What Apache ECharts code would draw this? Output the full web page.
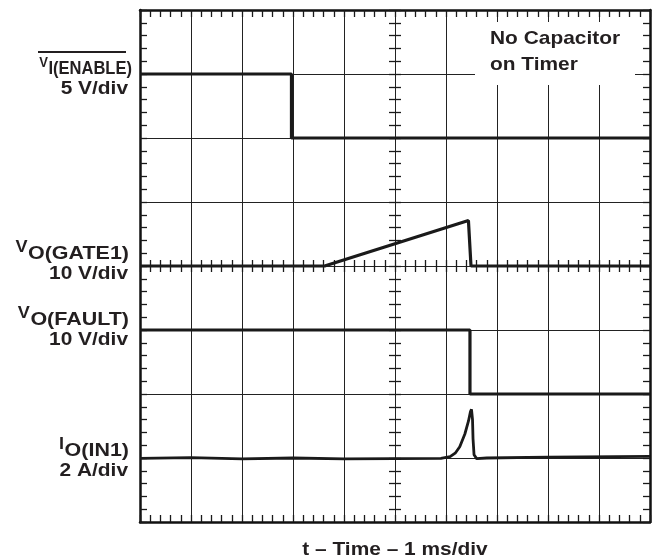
<!DOCTYPE html>
<html>
<head>
<meta charset="utf-8">
<script src="https://cdn.jsdelivr.net/npm/echarts@6/dist/echarts.min.js"></script>
<style>
  html, body { margin: 0; padding: 0; background: #fff; }
  #main { width: 652px; height: 559px; }
</style>
</head>
<body>
<div id="main"></div>
<script>
// time in ms (1 ms/div), values in the channel's own unit
var enableT = [0, 2.97, 2.97, 10];
var enableV = [5, 5, 0, 0];

var gate1T = [0, 3.62, 6.44, 6.49, 10];
var gate1V = [0, 0, 7.1, 0, 0];

var faultT = [0, 6.47, 6.47, 10];
var faultV = [10, 10, 0, 0];

var in1T = [0, 1, 2, 3, 4, 5, 5.9, 6.08, 6.18, 6.27, 6.37, 6.44, 6.48, 6.5, 6.52, 6.53, 6.55, 6.6, 6.8, 8, 10];
var in1A = [-0.01, 0.01, -0.03, 0, -0.03, -0.02, -0.01, 0.04, 0.15, 0.35, 0.75, 1.15, 1.45, 1.52, 1.2, 0.6, 0.1, -0.02, 0, 0.03, 0.05];

// scope settings per channel: units per division, division where zero sits
var chNames = ["ENABLE", "GATE1", "FAULT", "IN1"];
var unitsPerDiv = [5, 10, 10, 2];
var zeroDiv = [6, 4, 2, 1];

function toDiv(ts, vs, ch) {
  return ts.map(function (t, i) {
    return [t, zeroDiv[ch] + vs[i] / unitsPerDiv[ch]];
  });
}

var FONT = '"Liberation Sans", Arial, sans-serif';
var INK = "#231f20";
var GRIDC = "#222";

var chart = echarts.init(document.getElementById("main"));

// text width helper for placing the raised prefix letter
var mctx = document.createElement("canvas").getContext("2d");
function textW(str, font) { mctx.font = font; return mctx.measureText(str).width; }
// y for verticalAlign middle so the alphabetic baseline lands on `base`
function midY(base, fs) { return base - 0.35 * fs; }

function axisBase(extra) {
  var a = {
    type: "value",
    axisLabel: { show: false },
    axisLine: { show: false, onZero: false },
    axisTick: { show: true, inside: true, length: 7, lineStyle: { color: "#1a1a1a", width: 1.3 } },
    minorTick: { show: true, splitNumber: 5, length: 7, lineStyle: { color: "#1a1a1a", width: 1.3 } },
    splitLine: { show: false }
  };
  return Object.assign(a, extra);
}
function xAx(extra) { return axisBase(Object.assign({ min: 0, max: 10, interval: 1 }, extra)); }
function yAx(extra) { return axisBase(Object.assign({ min: 0, max: 8, interval: 1 }, extra)); }

var borderLine = { show: true, onZero: false, lineStyle: { color: "#111", width: 2.5 } };
var outTick = { show: true, inside: false, length: 6, lineStyle: { color: "#1a1a1a", width: 1.3 } };
var outMinor = { show: true, splitNumber: 5, length: 6, lineStyle: { color: "#1a1a1a", width: 1.3 } };
var gridLines = { show: true, lineStyle: { color: GRIDC, width: 1 } };

function trace(data, w) {
  return {
    type: "line",
    xAxisIndex: 0,
    yAxisIndex: 0,
    data: data,
    showSymbol: false,
    symbol: "none",
    lineStyle: { color: "#1a1a1a", width: w },
    z: 5
  };
}

function txt(str, x, base, fs, sx, align) {
  return {
    type: "text", x: x, y: midY(base, fs), scaleX: sx, z: 50,
    style: { text: str, font: "bold " + fs + "px " + FONT, fill: INK, align: align, verticalAlign: "middle" }
  };
}

// channel label: raised prefix letter + big subscript, scale line below
function chLabel(base, right, sym, symFs, sub, sx, scale) {
  var w = textW(sub, "bold 19px " + FONT) * sx;
  return [
    txt(sub, right, base, 19, sx, "right"),
    txt(sym, right - w - 0.5, base - 7, symFs, sx, "right"),
    txt(scale, 128, base + 20, 19, 1.1, "right")
  ];
}

var graphics = [
  { type: "rect", z: 40, shape: { x: 475, y: 22, width: 160, height: 63 }, style: { fill: "#fff" } },
  txt("No Capacitor", 490, 45, 19, 1.1, "left"),
  txt("on Timer", 490, 71, 19, 1.1, "left"),
  { type: "line", z: 50, shape: { x1: 38, y1: 52, x2: 126, y2: 52 }, style: { stroke: INK, lineWidth: 2 } },
  txt("t \u2013 Time \u2013 1 ms/div", 395, 556, 19, 1.1, "center")
]
  .concat(chLabel(75, 132, "V", 15, "I(ENABLE)", 0.87, "5 V/div"))
  .concat(chLabel(260, 129, "V", 16, "O(GATE1)", 1.13, "10 V/div"))
  .concat(chLabel(326, 129, "V", 16, "O(FAULT)", 1.13, "10 V/div"))
  .concat(chLabel(457, 129, "I", 16, "O(IN1)", 1.13, "2 A/div"));

chart.setOption({
  animation: false,
  backgroundColor: "#fff",
  grid: [
    { left: 140, top: 10, width: 510, height: 512 },
    { left: 140, top: 10, width: 510, height: 512 }
  ],
  xAxis: [
    xAx({ gridIndex: 0, position: "bottom", axisLine: borderLine, splitLine: gridLines }),
    xAx({ gridIndex: 0, position: "top", axisLine: borderLine }),
    xAx({ gridIndex: 1, position: "bottom", offset: -256, axisTick: outTick, minorTick: outMinor }),
    xAx({ gridIndex: 1, position: "top", offset: -256, axisTick: outTick, minorTick: outMinor })
  ],
  yAxis: [
    yAx({ gridIndex: 0, position: "left", axisLine: borderLine, splitLine: gridLines }),
    yAx({ gridIndex: 0, position: "right", axisLine: borderLine }),
    yAx({ gridIndex: 1, position: "left", offset: -255, axisTick: outTick, minorTick: outMinor }),
    yAx({ gridIndex: 1, position: "right", offset: -255, axisTick: outTick, minorTick: outMinor })
  ],
  graphic: graphics,
  series: [
    trace(toDiv(enableT, enableV, 0), 3.2),
    trace(toDiv(gate1T, gate1V, 1), 3.2),
    trace(toDiv(faultT, faultV, 2), 3.2),
    trace(toDiv(in1T, in1A, 3), 2.8)
  ]
});
</script>
</body>
</html>
